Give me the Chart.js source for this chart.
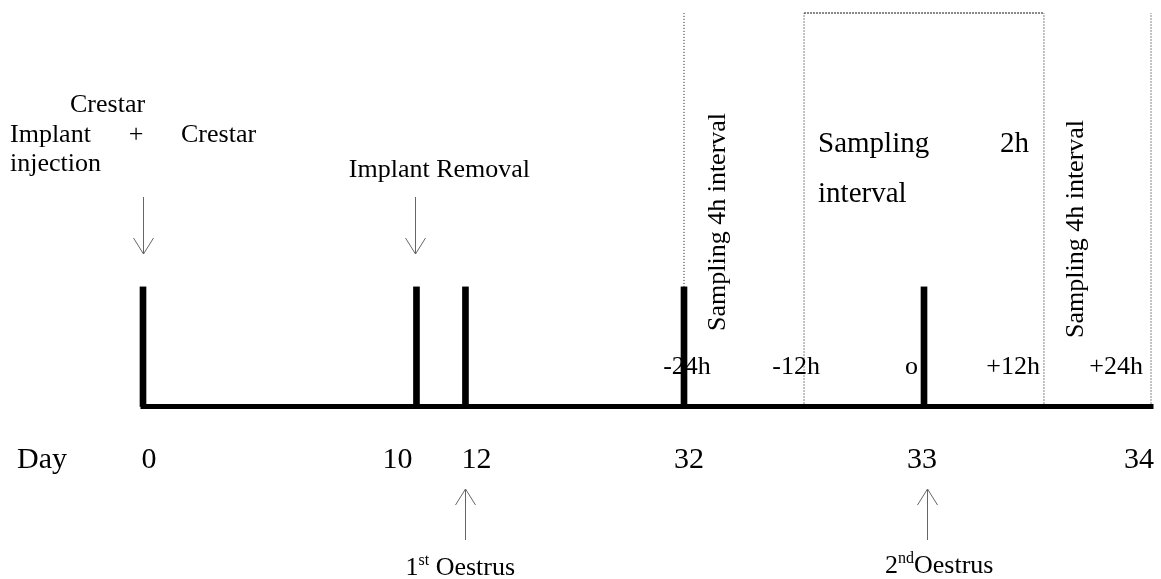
<!DOCTYPE html>
<html>
<head>
<meta charset="utf-8">
<script src="https://cdn.jsdelivr.net/npm/chart.js@4.4.1/dist/chart.umd.min.js"></script>
<style>
  html, body { margin: 0; padding: 0; background: #fff; }
  #wrap { width: 1161px; height: 579px; position: relative; }
</style>
</head>
<body>
<div id="wrap"><canvas id="timeline"></canvas></div>
<script>
// days shown under the axis and where they sit on the (non-linear) schematic axis, 0..100
const dayLabels = ["0", "10", "12", "32", "33", "34"];
const dayPos = [0, 27.13, 31.99, 53.67, 77.48, 100];
// days marked with a thick bar
const eventDays = ["0", "10", "12", "32", "33"];
// hours around the 2nd oestrus
const hourLabels = ["-24h", "-12h", "o", "+12h", "+24h"];
const hourPos = [53.67, 65.58, 77.48, 89.38, 100];
// sampling window boundaries (hour labels)
const samplingEdges = ["-24h", "-12h", "+12h", "+24h"];
const barHeight = 30.4;   // height of event bars, 0..100 of the plot
const windowTop = 100;    // top of sampling window lines

const posOfDay = d => dayPos[dayLabels.indexOf(d)];
const posOfHour = h => hourPos[hourLabels.indexOf(h)];

const serif = '"Liberation Serif", "Times New Roman", serif';
const lineCol = "#111";
const arrowCol = "#666";

function vline(x, y0, y1, dash, width) {
  return {
    type: "line",
    data: [{ x: x, y: y0 }, { x: x, y: y1 }],
    borderColor: lineCol,
    borderWidth: width || 1,
    borderDash: dash,
    pointRadius: 0,
    clip: false
  };
}

const datasets = [];

// baseline
datasets.push({
  type: "line",
  data: [{ x: 0, y: 0 }, { x: 100, y: 0 }],
  borderColor: "#000",
  borderWidth: 5,
  borderCapStyle: "square",
  pointRadius: 0,
  clip: false,
  order: 0
});

// event bars
datasets.push({
  type: "bar",
  data: eventDays.map(d => ({ x: posOfDay(d), y: barHeight })),
  backgroundColor: "#000",
  barThickness: 6,
  clip: false,
  order: 1
});

// sampling window lines
samplingEdges.forEach((h, i) => {
  const from = i === 0 ? barHeight : 0;
  datasets.push(vline(posOfHour(h), from, windowTop, [1, 2]));
});
// dashed top of the 2h box
datasets.push({
  type: "line",
  data: [{ x: posOfHour("-12h"), y: windowTop }, { x: posOfHour("+12h"), y: windowTop }],
  borderColor: lineCol,
  borderWidth: 1,
  borderDash: [2, 1],
  pointRadius: 0,
  clip: false
});

function arrow(ctx, x, yFrom, yTip) {
  const dir = yTip > yFrom ? 1 : -1;
  ctx.save();
  ctx.strokeStyle = arrowCol;
  ctx.lineWidth = 1;
  ctx.beginPath();
  ctx.moveTo(x + 0.5, yFrom);
  ctx.lineTo(x + 0.5, yTip);
  ctx.moveTo(x - 9.5, yTip - dir * 16);
  ctx.lineTo(x + 0.5, yTip);
  ctx.lineTo(x + 10.5, yTip - dir * 16);
  ctx.stroke();
  ctx.restore();
}

function text(ctx, s, x, y, size, align) {
  ctx.font = size + "px " + serif;
  ctx.textAlign = align || "left";
  ctx.fillText(s, x, y);
}

// "1st Oestrus" style label with superscript
function supText(ctx, base, sup, rest, x, y) {
  ctx.textAlign = "left";
  ctx.font = "26px " + serif;
  ctx.fillText(base, x, y);
  let cx = x + ctx.measureText(base).width;
  ctx.font = "16px " + serif;
  ctx.fillText(sup, cx, y - 10);
  cx += ctx.measureText(sup).width;
  ctx.font = "26px " + serif;
  ctx.fillText(rest, cx, y);
}

const labelsPlugin = {
  id: "labels",
  afterDatasetsDraw(chart) {
    const ctx = chart.ctx;
    const xs = chart.scales.x;
    const px = v => xs.getPixelForValue(v);
    ctx.save();
    ctx.fillStyle = "#000";
    ctx.textBaseline = "alphabetic";

    // day numbers under the axis
    const dayNudge = [6, -19, 11, 5, -2, -12];
    text(ctx, "Day", 17, 468, 30);
    dayLabels.forEach((d, i) => text(ctx, d, px(dayPos[i]) + dayNudge[i], 468, 30, "center"));

    // hour labels above the axis
    const hourNudge = [3, -8, -6, -4, -8];
    const hourAlign = ["center", "center", "right", "right", "right"];
    hourLabels.forEach((h, i) => text(ctx, h, px(hourPos[i]) + hourNudge[i], 374, 26, hourAlign[i]));

    // treatments
    const d0 = px(posOfDay("0"));
    text(ctx, "Crestar", d0 - 73, 112, 26);
    text(ctx, "Implant", 10, 142, 26);
    text(ctx, "+", d0 - 7, 142, 26, "center");
    text(ctx, "Crestar", d0 + 38, 142, 26);
    text(ctx, "injection", 10, 171, 26);
    arrow(ctx, Math.round(d0), 197, 254);

    const d10 = px(posOfDay("10"));
    text(ctx, "Implant Removal", d10 + 23, 177, 26, "center");
    arrow(ctx, Math.round(d10) - 1, 197, 254);

    // oestrus arrows
    const d12 = px(posOfDay("12"));
    arrow(ctx, Math.round(d12), 540, 489);
    supText(ctx, "1", "st", " Oestrus", d12 - 60, 575);

    const d33 = px(posOfDay("33"));
    arrow(ctx, Math.round(d33) + 3, 540, 489);
    supText(ctx, "2", "nd", "Oestrus", d33 - 39, 573);

    // sampling texts
    const hm12 = px(posOfHour("-12h"));
    const hp12 = px(posOfHour("+12h"));
    text(ctx, "Sampling", hm12 + 14, 152, 29);
    text(ctx, "2h", hp12 - 15, 152, 29, "right");
    text(ctx, "interval", hm12 + 14, 202, 29);

    const vert = (x, y) => {
      ctx.save();
      ctx.translate(x, y);
      ctx.rotate(-Math.PI / 2);
      text(ctx, "Sampling 4h interval", 0, 0, 26);
      ctx.restore();
    };
    vert(px(posOfHour("-24h")) + 41, 331);
    vert(hp12 + 39, 338);

    ctx.restore();
  }
};

new Chart(document.getElementById("timeline"), {
  type: "bar",
  data: { datasets: datasets },
  options: {
    responsive: true,
    maintainAspectRatio: false,
    animation: false,
    layout: { padding: { left: 143, right: 10, top: 13, bottom: 172.5 } },
    plugins: { legend: { display: false }, tooltip: { enabled: false } },
    scales: {
      x: { type: "linear", min: 0, max: 100, offset: false, display: false },
      y: { type: "linear", min: 0, max: 100, display: false }
    }
  },
  plugins: [labelsPlugin]
});
</script>
</body>
</html>
